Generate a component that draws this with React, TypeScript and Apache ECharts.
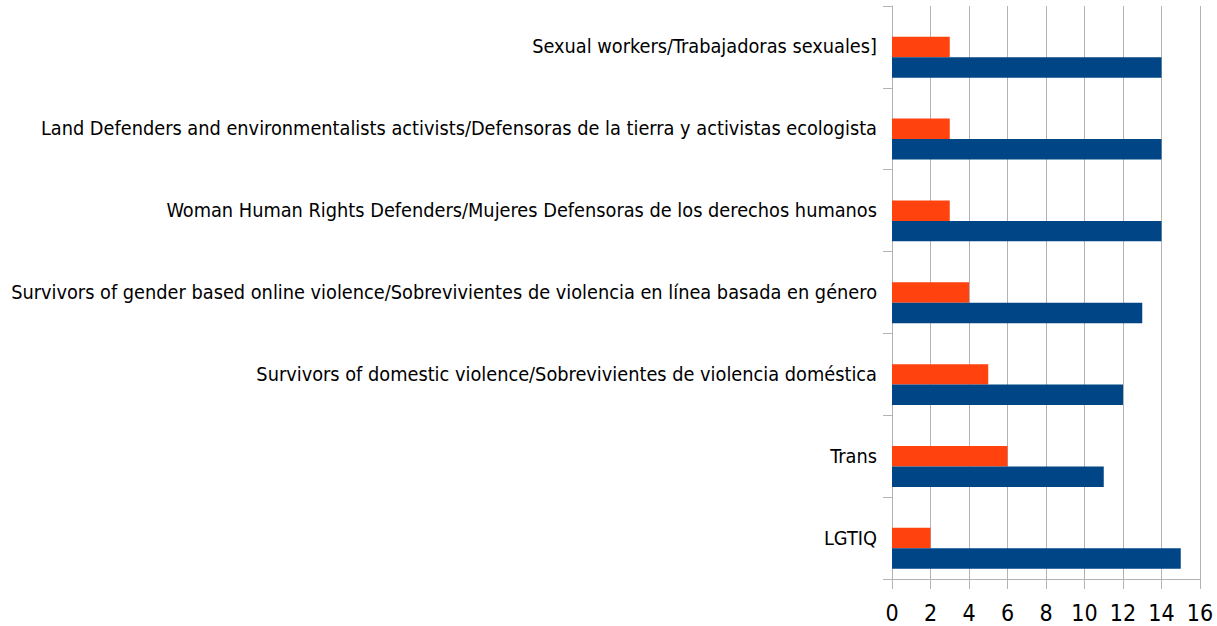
import React, { useEffect, useRef } from "react";
import * as echarts from "echarts";

const categories = [
  "LGTIQ",
  "Trans",
  "Survivors of domestic violence/Sobrevivientes de violencia doméstica",
  "Survivors of gender based online violence/Sobrevivientes de violencia en línea basada en género",
  "Woman Human Rights Defenders/Mujeres Defensoras de los derechos humanos",
  "Land Defenders and environmentalists activists/Defensoras de la tierra y activistas ecologista",
  "Sexual workers/Trabajadoras sexuales]",
];
const blueValues = [15, 11, 12, 13, 14, 14, 14];
const orangeValues = [2, 6, 5, 4, 3, 3, 3];
const xTicks = [0, 2, 4, 6, 8, 10, 12, 14, 16];

const FONT = "'DejaVu Sans Condensed', 'Liberation Sans', Arial, sans-serif";
const GRID = "#b3b3b3";

export default function App() {
  const ref = useRef<HTMLDivElement>(null);
  useEffect(() => {
    if (!ref.current) return;
    const chart = echarts.init(ref.current, null, { renderer: "svg" });
    chart.setOption({
      animation: false,
      grid: { left: 892, right: 17, top: 6, bottom: 47, containLabel: false, outerBoundsMode: "none" },
      xAxis: {
        type: "value",
        min: xTicks[0],
        max: xTicks[xTicks.length - 1],
        interval: 2,
        axisLine: { show: true, lineStyle: { color: GRID, width: 1 } },
        axisTick: { show: true, length: 10, lineStyle: { color: GRID } },
        splitLine: { show: true, lineStyle: { color: GRID, width: 1 } },
        axisLabel: { color: "#000", fontFamily: FONT, fontSize: 23, margin: 22 },
      },
      yAxis: {
        type: "category",
        data: categories,
        axisLine: { show: true, lineStyle: { color: GRID } },
        axisTick: { show: true, length: 9, alignWithLabel: false, lineStyle: { color: GRID } },
        axisLabel: { color: "#000", fontFamily: FONT, fontSize: 19.75, margin: 15 },
      },
      series: [
        {
          type: "bar",
          data: categories.map(() => "-"),
          itemStyle: { color: "transparent" },
          barGap: "0%",
          barCategoryGap: "25%",
        },
        {
          type: "bar",
          data: orangeValues,
          itemStyle: { color: "#ff420e" },
          barGap: "0%",
          barCategoryGap: "25%",
        },
        {
          type: "bar",
          data: blueValues,
          itemStyle: { color: "#004586" },
          barGap: "0%",
          barCategoryGap: "25%",
        },
      ],
    });
    return () => chart.dispose();
  }, []);
  return <div ref={ref} style={{ width: 1217, height: 626, position: "absolute", left: 0, top: 0 }} />;
}
